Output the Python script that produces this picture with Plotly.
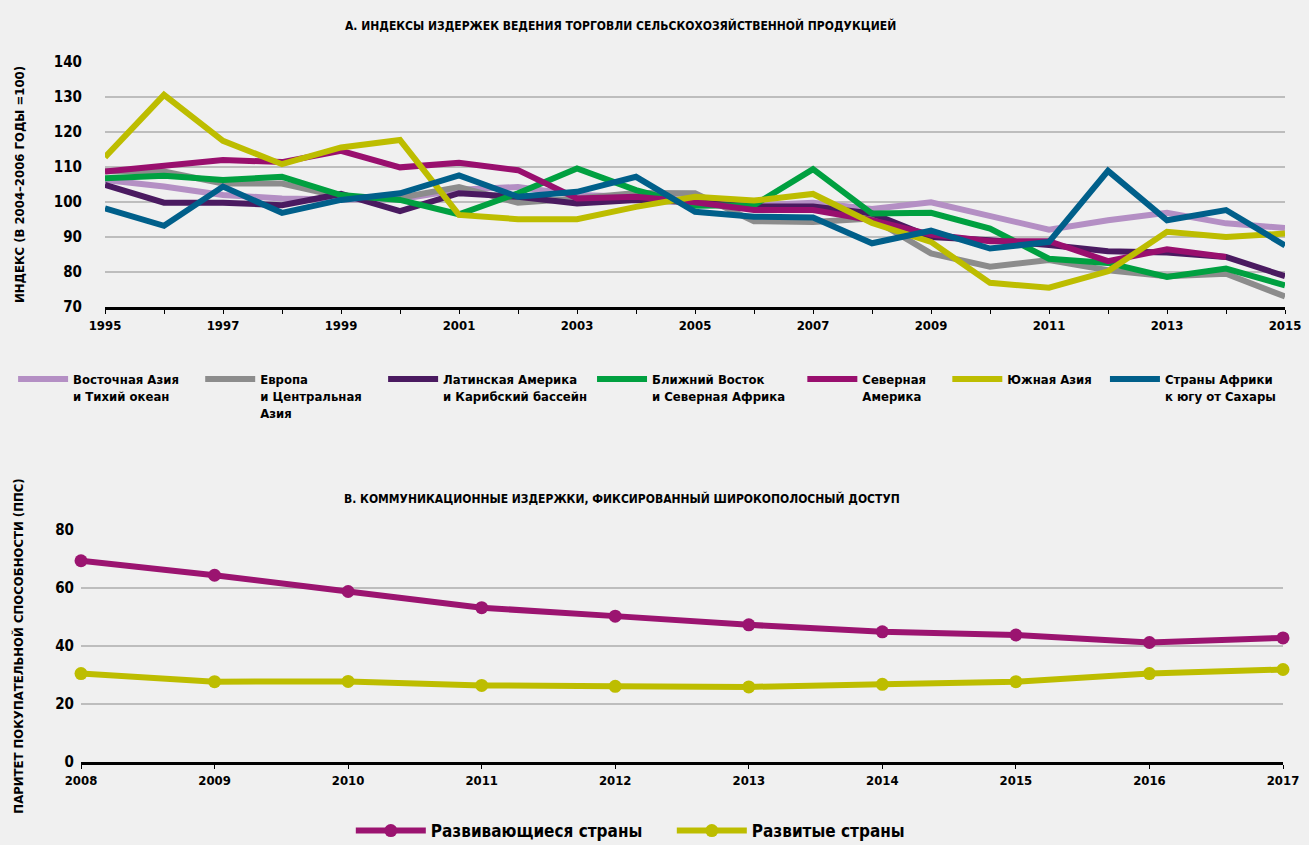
import plotly.graph_objects as go

# --- Панель A: индексы издержек торговли (2004-2006 = 100) ---
anios_a = list(range(1995, 2016))

vostochnaya_aziya = [106.3, 104.4, 102.0, 101.0, 100.7, 100.8, 103.5, 104.3, 102.0, 101.5, 100.5,
                     99.0, 99.8, 98.0, 99.9, 96.1, 92.1, 94.8, 96.9, 93.9, 92.6]
evropa = [108.8, 108.7, 105.3, 105.3, 101.5, 101.2, 104.3, 99.8, 101.0, 102.6, 102.5,
          94.5, 94.3, 95.3, 85.3, 81.5, 83.4, 80.5, 78.8, 79.5, 73.0]
lat_amerika = [104.9, 99.8, 99.8, 99.1, 102.3, 97.4, 102.5, 101.5, 99.6, 100.6, 99.9,
               98.7, 98.7, 96.7, 90.0, 89.1, 87.7, 85.9, 85.6, 84.3, 78.8]
blizhniy_vostok = [106.8, 107.5, 106.3, 107.2, 102.0, 100.6, 96.5, 102.5, 109.6, 103.4, 98.9,
                   99.1, 109.4, 96.7, 96.9, 92.4, 83.8, 82.6, 78.6, 81.0, 76.2]
sev_amerika = [108.7, 110.3, 112.0, 111.4, 114.6, 109.9, 111.2, 109.1, 101.0, 101.5, 99.9,
               97.7, 97.7, 94.8, 90.7, 88.8, 88.8, 83.1, 86.5, 84.3, None]
yuzhnaya_aziya = [112.8, 130.6, 117.5, 110.8, 115.6, 117.7, 96.3, 95.1, 95.1, 98.6, 101.5,
                  100.4, 102.3, 94.0, 88.6, 76.9, 75.5, 80.2, 91.5, 90.0, 91.0]
afrika = [98.2, 93.2, 104.4, 96.9, 100.6, 102.5, 107.6, 101.5, 102.9, 107.2, 97.2,
          95.8, 95.6, 88.2, 91.8, 86.7, 88.6, 108.9, 94.8, 97.7, 87.6]

NB = "\u00a0"  # неразрывный пробел для отступов в легенде

series_a = [
    ("Восточная Азия" + NB * 4 + "<br>и Тихий океан", vostochnaya_aziya, "#B48FC4"),
    ("Европа<br>и Центральная" + NB * 4 + "<br>Азия", evropa, "#8C8C8C"),
    ("Латинская Америка" + NB * 2 + "<br>и Карибский бассейн", lat_amerika, "#4A1A60"),
    ("Ближний Восток<br>и Северная Африка" + NB * 3, blizhniy_vostok, "#00A040"),
    ("Северная" + NB * 4 + "<br>Америка", sev_amerika, "#990F6E"),
    ("Южная Азия" + NB * 2, yuzhnaya_aziya, "#BDBD00"),
    ("Страны Африки<br>к югу от Сахары", afrika, "#005F8A"),
]

# --- Панель B: коммуникационные издержки ---
anios_b = list(range(2008, 2018))
razvivayushchiesya = [69.4, 64.4, 58.8, 53.2, 50.3, 47.3, 44.9, 43.8, 41.2, 42.8]
razvitye = [30.5, 27.7, 27.8, 26.4, 26.1, 25.9, 26.8, 27.7, 30.5, 31.9]

FUENTE = "DejaVu Sans Condensed, Liberation Sans Narrow, Arial Narrow, sans-serif"
FONDO = "#F0F0F0"
W, H = 1309, 845


def fuente(size):
    return dict(family=FUENTE, size=size, color="black", weight="bold")


fig = go.Figure()

for nombre, valores, color in series_a:
    fig.add_trace(go.Scatter(
        x=anios_a, y=valores, name=nombre, mode="lines",
        line=dict(color=color, width=6),
        xaxis="x", yaxis="y", legend="legend",
        hovertemplate="%{x}: %{y:.1f}<extra></extra>"
    ))

fig.add_trace(go.Scatter(
    x=anios_b, y=razvivayushchiesya, name="Развивающиеся страны",
    mode="lines+markers", line=dict(color="#9B1470", width=6),
    marker=dict(size=13, color="#9B1470"), cliponaxis=False,
    xaxis="x2", yaxis="y2", legend="legend2"
))
fig.add_trace(go.Scatter(
    x=anios_b, y=razvitye, name="Развитые страны",
    mode="lines+markers", line=dict(color="#BDBD00", width=6),
    marker=dict(size=13, color="#BDBD00"), cliponaxis=False,
    xaxis="x2", yaxis="y2", legend="legend2"
))

eje_x = dict(
    showgrid=False, showline=True, linecolor="black", linewidth=3,
    ticks="outside", ticklen=4, tickcolor="black", tickwidth=1,
    tickfont=fuente(13), automargin=False,
    zeroline=False, fixedrange=True,
)
eje_y = dict(
    showgrid=True, gridcolor="#BDBDBD", gridwidth=2, zeroline=False,
    showline=False, ticks="", ticklabelstandoff=22,
    tickfont=fuente(15), automargin=False,
    fixedrange=True,
)

fig.update_layout(
    width=W, height=H,
    paper_bgcolor=FONDO, plot_bgcolor=FONDO,
    margin=dict(l=0, r=0, t=0, b=0, autoexpand=False),
    font=dict(family=FUENTE, color="black"),
    xaxis=dict(eje_x, domain=[105 / W, 1285 / W], range=[1995, 2015],
               tick0=1995, dtick=2, anchor="y",
               minor=dict(dtick=1, ticks="outside", ticklen=4, tickcolor="black")),
    yaxis=dict(eje_y, domain=[1 - 307 / H, 1 - 62 / H], range=[70, 140], dtick=10,
               anchor="x",
               title=dict(text="ИНДЕКС (В 2004–2006 ГОДЫ =100)", standoff=26,
                          font=fuente(13))),
    xaxis2=dict(eje_x, domain=[81 / W, 1283 / W], range=[2008, 2017], dtick=1,
                anchor="y2"),
    yaxis2=dict(eje_y, domain=[1 - 762 / H, 1 - 530 / H], range=[0, 80], dtick=20,
                anchor="x2", ticklabelstandoff=6,
                title=dict(text="ПАРИТЕТ ПОКУПАТЕЛЬНОЙ СПОСОБНОСТИ (ППС)", standoff=28,
                           font=fuente(13))),
    legend=dict(orientation="h", x=0.01, xanchor="left", y=1 - 364 / H, yanchor="top",
                valign="top", itemwidth=50, bgcolor="rgba(0,0,0,0)",
                font=fuente(13), itemclick=False, itemdoubleclick=False),
    legend2=dict(orientation="h", x=0.268, xanchor="left", y=1 - 831 / H, yanchor="middle",
                 itemwidth=70, entrywidth=236, bgcolor="rgba(0,0,0,0)",
                 font=fuente(17), itemclick=False, itemdoubleclick=False),
    annotations=[
        dict(text="А. ИНДЕКСЫ ИЗДЕРЖЕК ВЕДЕНИЯ ТОРГОВЛИ СЕЛЬСКОХОЗЯЙСТВЕННОЙ ПРОДУКЦИЕЙ",
             x=620 / W, y=1 - 25 / H, xref="paper", yref="paper",
             xanchor="center", yanchor="middle",
             showarrow=False, font=fuente(12)),
        dict(text="В. КОММУНИКАЦИОННЫЕ ИЗДЕРЖКИ, ФИКСИРОВАННЫЙ ШИРОКОПОЛОСНЫЙ ДОСТУП",
             x=622 / W, y=1 - 498 / H, xref="paper", yref="paper",
             xanchor="center", yanchor="middle",
             showarrow=False, font=fuente(12)),
    ],
)

# страница без полей вокруг графика
fig.write_html("out.html", config={"displayModeBar": False},
               post_script="document.body.style.margin='0';")
